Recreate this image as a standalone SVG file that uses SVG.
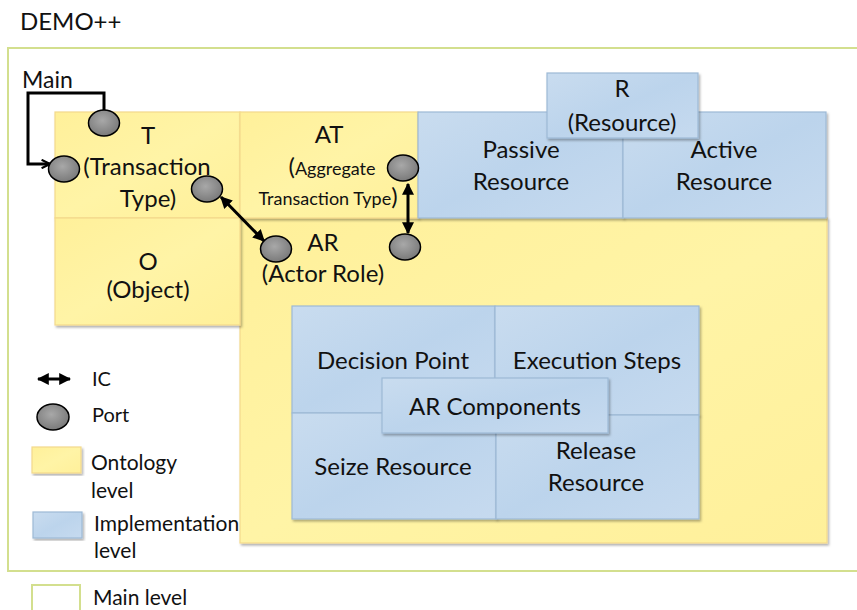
<svg xmlns="http://www.w3.org/2000/svg" width="857" height="610" viewBox="0 0 857 610">
<defs>
<linearGradient id="gy" x1="0" y1="0" x2="1" y2="1">
<stop offset="0" stop-color="#fff09a"/><stop offset="0.5" stop-color="#fff4a6"/><stop offset="1" stop-color="#fff09a"/>
</linearGradient>
<linearGradient id="gb" x1="0" y1="0" x2="1" y2="1">
<stop offset="0" stop-color="#c9dcef"/><stop offset="0.5" stop-color="#bcd4ec"/><stop offset="1" stop-color="#c6daef"/>
</linearGradient>
<radialGradient id="gp" cx="0.45" cy="0.4" r="0.6">
<stop offset="0" stop-color="#a8a8a8"/><stop offset="1" stop-color="#7a7a7a"/>
</radialGradient>
<filter id="sh" x="-5%" y="-5%" width="112%" height="115%">
<feDropShadow dx="1.5" dy="2" stdDeviation="1.2" flood-color="#000" flood-opacity="0.3"/>
</filter>
<marker id="ah" viewBox="0 0 10 10" refX="9" refY="5" markerWidth="4" markerHeight="4" orient="auto-start-reverse" markerUnits="strokeWidth">
<path d="M0,0 L10,5 L0,10 z" fill="#000"/>
</marker>
<marker id="oa" viewBox="0 0 10 10" refX="9" refY="5" markerWidth="3.5" markerHeight="3.5" orient="auto" markerUnits="strokeWidth">
<path d="M1,1 L9,5 L1,9" fill="none" stroke="#000" stroke-width="2"/>
</marker>
</defs>
<style>
.t{font-family:Lato,"Open Sans","Liberation Sans",sans-serif;fill:#111;text-anchor:middle}
.l{font-family:Lato,"Open Sans","Liberation Sans",sans-serif;fill:#111}
.y{fill:url(#gy);stroke:#f3d98c;stroke-width:1.2;filter:url(#sh)}
.b{fill:url(#gb);stroke:#9db9d6;stroke-width:1.2;filter:url(#sh)}
.p{fill:url(#gp);stroke:#000;stroke-width:1.5}
.c{fill:none;stroke:#000;stroke-width:3}
</style>
<rect width="857" height="610" fill="#fff"/>
<text class="l" x="20" y="30" font-size="24">DEMO++</text>
<rect x="8" y="48" width="880" height="523" fill="#fff" stroke="#d3df8e" stroke-width="2"/>

<g id="AR">
<rect class="y" x="240" y="218" width="587" height="325"/>
<text class="t" x="323" y="251" font-size="24">AR</text>
<text class="t" x="323" y="282" font-size="24">(Actor Role)</text>
</g>
<g id="T">
<rect class="y" x="55" y="112" width="185" height="106"/>
<text class="t" x="148" y="144" font-size="24">T</text>
<text class="t" x="147" y="175" font-size="24">(Transaction</text>
<text class="t" x="148" y="207" font-size="24">Type)</text>
</g>
<g id="O">
<rect class="y" x="55" y="218" width="185" height="107"/>
<text class="t" x="148" y="270" font-size="24">O</text>
<text class="t" x="148" y="298" font-size="24">(Object)</text>
</g>
<g id="AT">
<rect class="y" x="240" y="112" width="178" height="106"/>
<text class="t" x="329" y="143" font-size="24">AT</text>
<text class="t" x="332" y="175" font-size="18"><tspan font-size="24">(</tspan>Aggregate</text>
<text class="t" x="328" y="205" font-size="18">Transaction Type<tspan font-size="24">)</tspan></text>
</g>
<g id="PassiveResource">
<rect class="b" x="418" y="112" width="205" height="106"/>
<text class="t" x="521" y="158" font-size="24">Passive</text>
<text class="t" x="521" y="190" font-size="24">Resource</text>
</g>
<g id="ActiveResource">
<rect class="b" x="623" y="112" width="203" height="106"/>
<text class="t" x="724" y="158" font-size="24">Active</text>
<text class="t" x="724" y="190" font-size="24">Resource</text>
</g>
<g id="R">
<rect class="b" x="547" y="73" width="151" height="65"/>
<text class="t" x="622" y="97" font-size="24">R</text>
<text class="t" x="622" y="131" font-size="24">(Resource)</text>
</g>
<g id="DecisionPoint">
<rect class="b" x="292" y="306" width="203" height="107"/>
<text class="t" x="393" y="369" font-size="24">Decision Point</text>
</g>
<g id="ExecutionSteps">
<rect class="b" x="495" y="306" width="204" height="109"/>
<text class="t" x="597" y="369" font-size="24">Execution Steps</text>
</g>
<g id="SeizeResource">
<rect class="b" x="292" y="413" width="204" height="106"/>
<text class="t" x="393" y="475" font-size="24">Seize Resource</text>
</g>
<g id="ReleaseResource">
<rect class="b" x="496" y="415" width="203" height="104"/>
<text class="t" x="596" y="459" font-size="24">Release</text>
<text class="t" x="596" y="491" font-size="24">Resource</text>
</g>
<g id="ARComponents">
<rect class="b" x="382" y="378" width="226" height="55"/>
<text class="t" x="495" y="415" font-size="24">AR Components</text>
</g>

<g id="connectors">
<path class="c" d="M104,112 V93 H28 V164 H50" stroke-linejoin="miter" marker-end="url(#oa)"/>
<line class="c" x1="221" y1="197" x2="264" y2="241" stroke-width="2.5" marker-start="url(#ah)" marker-end="url(#ah)"/>
<line class="c" x1="408" y1="184" x2="408" y2="233" stroke-width="2.5" marker-start="url(#ah)" marker-end="url(#ah)"/>
</g>
<text class="l" x="22" y="88" font-size="23">Main</text>

<g id="ports">
<ellipse class="p" cx="104" cy="123" rx="15.5" ry="13"/>
<ellipse class="p" cx="64" cy="169" rx="15.5" ry="13"/>
<ellipse class="p" cx="207" cy="189" rx="15.5" ry="13"/>
<ellipse class="p" cx="276" cy="249" rx="15.5" ry="13"/>
<ellipse class="p" cx="403" cy="168" rx="15.5" ry="13"/>
<ellipse class="p" cx="405" cy="247" rx="15.5" ry="13"/>
</g>

<g id="legend">
<line class="c" x1="38" y1="379" x2="70" y2="379" stroke-width="2.5" marker-start="url(#ah)" marker-end="url(#ah)"/>
<text class="l" x="92" y="386" font-size="20">IC</text>
<ellipse class="p" cx="53" cy="417" rx="16" ry="13"/>
<text class="l" x="92" y="422" font-size="20">Port</text>
<rect class="y" x="32" y="447" width="49" height="26"/>
<text class="l" x="91" y="470" font-size="21">Ontology</text>
<text class="l" x="91" y="498" font-size="21">level</text>
<rect class="b" x="33" y="512" width="49" height="26"/>
<text class="l" x="94" y="531" font-size="21">Implementation</text>
<text class="l" x="94" y="558" font-size="21">level</text>
<rect x="32" y="585" width="48" height="30" fill="#fff" stroke="#d3df8e" stroke-width="2"/>
<text class="l" x="93" y="605" font-size="21">Main level</text>
</g>
</svg>
